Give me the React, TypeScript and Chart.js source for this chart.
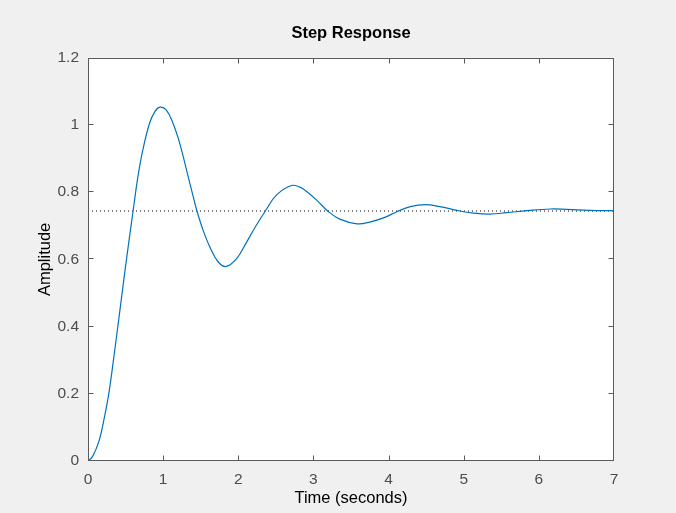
import React, { useEffect, useRef } from "react";
import { Chart, registerables } from "chart.js";

Chart.register(...registerables);

const timeS = [0, 0.06, 0.15, 0.22, 0.28, 0.35, 0.42, 0.5, 0.6, 0.665, 0.73, 0.82, 0.89, 0.955, 1.04, 1.13, 1.22, 1.31, 1.4, 1.45, 1.53, 1.62, 1.73, 1.84, 1.98, 2.1, 2.22, 2.36, 2.51, 2.71, 2.82, 2.91, 3.05, 3.2, 3.35, 3.58, 3.75, 3.95, 4.11, 4.29, 4.49, 4.68, 4.93, 5.13, 5.35, 5.57, 5.84, 6.15, 6.37, 6.68, 7.0];
const amplitude = [0, 0.013, 0.062, 0.132, 0.205, 0.32, 0.44, 0.58, 0.744, 0.847, 0.926, 1.006, 1.04, 1.053, 1.045, 1.006, 0.946, 0.867, 0.787, 0.744, 0.688, 0.638, 0.593, 0.579, 0.603, 0.647, 0.694, 0.744, 0.792, 0.82, 0.815, 0.802, 0.775, 0.742, 0.72, 0.706, 0.711, 0.725, 0.742, 0.757, 0.763, 0.757, 0.745, 0.738, 0.735, 0.739, 0.745, 0.75, 0.749, 0.746, 0.745];
const steadyState = 0.744;
const xRange = [0, 7];
const yRange = [0, 1.2];
const titleText = "Step Response";
const xLabel = "Time (seconds)";
const yLabel = "Amplitude";

const FONT = "'Liberation Sans', Arial, Helvetica, sans-serif";

const matlabAxes = {
  id: "matlabAxes",
  beforeDraw(chart: any) {
    const { ctx, chartArea } = chart;
    ctx.save();
    ctx.fillStyle = "#f0f0f0";
    ctx.fillRect(0, 0, chart.width, chart.height);
    ctx.fillStyle = "#ffffff";
    ctx.fillRect(chartArea.left, chartArea.top, chartArea.right - chartArea.left, chartArea.bottom - chartArea.top);
    ctx.restore();
  },
  afterDraw(chart: any) {
    const { ctx, chartArea } = chart;
    const { left, right, top, bottom } = chartArea;
    const xs = chart.scales.x;
    const ys = chart.scales.y;
    const tl = 5;
    ctx.save();
    ctx.strokeStyle = "#5a5a5a";
    ctx.lineWidth = 1;
    ctx.beginPath();
    const L = Math.round(left) + 0.5, R = Math.round(right) - 0.5, T = Math.round(top) + 0.5, B = Math.round(bottom) - 0.5;
    ctx.rect(L, T, R - L, B - T);
    xs.ticks.forEach((t: any) => {
      const px = Math.min(R, Math.max(L, Math.round(xs.getPixelForValue(t.value)) + 0.5));
      ctx.moveTo(px, B); ctx.lineTo(px, B - tl);
      ctx.moveTo(px, T); ctx.lineTo(px, T + tl);
    });
    ys.ticks.forEach((t: any) => {
      const py = Math.min(B, Math.max(T, Math.round(ys.getPixelForValue(t.value)) - 0.5));
      ctx.moveTo(L, py); ctx.lineTo(L + tl, py);
      ctx.moveTo(R, py); ctx.lineTo(R - tl, py);
    });
    ctx.stroke();
    ctx.restore();
  },
};

export default function App() {
  const ref = useRef<HTMLCanvasElement | null>(null);
  useEffect(() => {
    document.body.style.margin = "0";
    document.body.style.background = "#f0f0f0";
    const canvas = ref.current!;
    const chart = new Chart(canvas, {
      type: "line",
      data: {
        datasets: [
          {
            label: "response",
            data: timeS.map((t, i) => ({ x: t, y: amplitude[i] })),
            borderColor: "#0072BD",
            borderWidth: 1.2,
            pointRadius: 0,
            tension: 0.4,
            fill: false,
          },
          {
            label: "steady",
            data: [
              { x: xRange[0], y: steadyState },
              { x: xRange[1], y: steadyState },
            ],
            borderColor: "#000000",
            borderWidth: 1,
            borderDash: [1, 3],
            pointRadius: 0,
            fill: false,
          },
        ],
      },
      plugins: [matlabAxes],
      options: {
        animation: false,
        responsive: false,
        maintainAspectRatio: false,
        devicePixelRatio: 1,
        layout: { padding: { left: 0, right: 62, top: 0, bottom: 0 } },
        plugins: {
          legend: { display: false },
          tooltip: { enabled: false },
          title: {
            display: true,
            text: titleText,
            fullSize: false,
            color: "#000000",
            font: { family: FONT, size: 16.5, weight: "bold" },
            padding: { top: 24, bottom: 14 },
          },
        },
        scales: {
          x: {
            type: "linear",
            min: xRange[0],
            max: xRange[1],
            afterFit: (s: any) => { s.height = 52; },
            grid: { display: false, drawTicks: false },
            border: { display: false },
            ticks: {
              stepSize: 1,
              color: "#4d4d4d",
              padding: 9,
              font: { family: FONT, size: 15.5 },
              maxRotation: 0,
            },
            title: {
              display: true,
              text: xLabel,
              color: "#000000",
              font: { family: FONT, size: 16.5 },
              padding: { top: 0, bottom: 5 },
            },
          },
          y: {
            type: "linear",
            min: yRange[0],
            max: yRange[1],
            afterFit: (s: any) => { s.width = 88; },
            grid: { display: false, drawTicks: false },
            border: { display: false },
            ticks: {
              stepSize: 0.2,
              color: "#4d4d4d",
              padding: 9,
              font: { family: FONT, size: 15.5 },
              callback: (v: any) => String(Number(Number(v).toFixed(1))),
            },
            title: {
              display: true,
              text: yLabel,
              color: "#000000",
              font: { family: FONT, size: 16.5 },
              padding: { top: 36, bottom: 0 },
            },
          },
        },
      },
    });
    return () => chart.destroy();
  }, []);
  return <canvas ref={ref} width={676} height={513} style={{ display: "block" }} />;
}
